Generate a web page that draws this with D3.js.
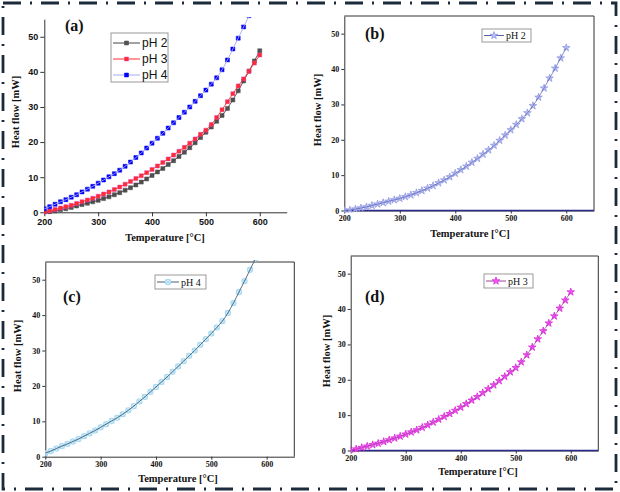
<!DOCTYPE html>
<html><head><meta charset="utf-8">
<script src="https://cdn.jsdelivr.net/npm/d3@7"></script>
<style>body{margin:0;background:#fff}svg{display:block}</style>
</head><body>
<svg id="c" width="620" height="492"></svg>
<script>
// ---- data ----
const temps = [200,210,220,230,240,250,260,270,280,290,300,310,320,330,340,350,360,370,380,390,400,410,420,430,440,450,460,470,480,490,500,510,520,530,540,550,560,570,580,590,600];
const ph2 = [0,0.1,0.4,0.7,1.0,1.4,1.8,2.2,2.6,3.0,3.4,3.9,4.4,5.0,5.6,6.3,7.0,7.8,8.6,9.5,10.5,11.5,12.5,13.6,14.7,15.9,17.1,18.4,19.8,21.3,22.8,24.3,25.9,27.6,29.6,32.0,34.6,37.4,40.2,43.1,46.0];
const ph3 = [0,0.4,0.8,1.2,1.6,2.0,2.5,3.0,3.5,4.0,4.6,5.2,5.8,6.5,7.2,8.0,8.8,9.6,10.4,11.3,12.2,13.2,14.2,15.2,16.3,17.4,18.5,19.7,20.9,22.2,23.4,25.0,27.0,29.2,31.5,33.8,36.0,38.0,40.2,42.5,44.8];
const ph4 = [1.0,1.6,2.3,3.0,3.6,4.3,5.0,5.8,6.6,7.4,8.3,9.2,10.1,11.0,12.0,13.1,14.3,15.6,16.9,18.3,19.7,21.1,22.5,24.0,25.5,27.0,28.5,30.0,31.6,33.2,34.8,36.5,38.3,40.6,43.4,46.5,49.6,52.8,56.0];
const xTicks = [200,300,400,500,600];
const yTicks = [0,10,20,30,40,50];
const xDomain = [200,650];
const yDomain = [0,55];

const svg = d3.select("#c");
const serif = "'Liberation Serif','Times New Roman',serif";
const sans = "'Liberation Sans',Arial,sans-serif";

// outer dash-dot frame
svg.append("rect").attr("x",3).attr("y",3).attr("width",613).attr("height",486)
  .attr("fill","none").attr("stroke","#1c2b3b").attr("stroke-width",2.8)
  .attr("stroke-dasharray","18,9,2,9");

function seriesPts(vals){ return vals.map((v,i)=>({t:temps[i],v:v})); }

const starPath = d3.symbol().type(d3.symbolStar).size(18)();
const sqPath = d3.symbol().type(d3.symbolSquare).size(16)();

function marker(g, kind, fill, stroke){
  if(kind==="square"){
    g.append("path").attr("d",sqPath).attr("fill",fill).attr("stroke",stroke).attr("stroke-width",0.5);
  } else if(kind==="star"){
    g.append("path").attr("d",starPath).attr("fill",fill).attr("stroke",stroke).attr("stroke-width",0.7);
  } else if(kind==="xcircle"){
    g.append("circle").attr("r",2.7).attr("fill","#d8f0fb").attr("stroke",stroke).attr("stroke-width",1);
    g.append("path").attr("d","M-2.5,-2.5L2.5,2.5M-2.5,2.5L2.5,-2.5").attr("stroke",stroke).attr("stroke-width",0.9);
  }
}

function panel(o){
  const x = d3.scaleLinear().domain(xDomain).range([o.x0,o.x1]);
  const y = d3.scaleLinear().domain(yDomain).range([o.y0,o.y1]);
  const g = svg.append("g");
  const clipId = "clip"+o.id;
  svg.append("clipPath").attr("id",clipId).append("rect")
    .attr("x",o.x0).attr("y",o.y1-2).attr("width",o.x1-o.x0+4).attr("height",o.y0-o.y1+4);

  const tickFont = o.sansTicks ? sans : serif;
  const xa = g.append("g").attr("transform",`translate(0,${o.y0})`)
    .call(d3.axisBottom(x).tickValues(xTicks).tickSize(o.tick).tickSizeOuter(0).tickPadding(2));
  const ya = g.append("g").attr("transform",`translate(${o.x0},0)`)
    .call(d3.axisLeft(y).tickValues(yTicks).tickSize(o.tick).tickSizeOuter(0).tickPadding(2));
  [xa,ya].forEach(a=>{
    a.selectAll("text").attr("font-family",tickFont).attr("font-weight","bold")
      .attr("font-size",o.tickFs).attr("fill","#111");
    a.selectAll("line").attr("stroke","#333");
    a.select(".domain").attr("stroke","#333").attr("stroke-width",1);
  });
  if(o.frame){
    g.append("line").attr("x1",o.x0).attr("x2",o.x1).attr("y1",o.y1).attr("y2",o.y1).attr("stroke","#333");
    g.append("line").attr("x1",o.x1).attr("x2",o.x1).attr("y1",o.y1).attr("y2",o.y0).attr("stroke","#333");
  }
  if(o.baseColor){
    g.append("line").attr("x1",o.x0).attr("x2",o.x1).attr("y1",o.y0).attr("y2",o.y0)
      .attr("stroke",o.baseColor).attr("stroke-width",1.3);
  }

  const plot = g.append("g").attr("clip-path",`url(#${clipId})`);
  o.series.forEach(s=>{
    const pts = seriesPts(s.vals);
    pts.forEach(d=>{
      const m = plot.append("g").attr("transform",`translate(${x(d.t)},${y(d.v)})`);
      marker(m,s.kind,s.fill,s.stroke);
    });
    plot.append("path").datum(pts).attr("fill","none").attr("stroke",s.line).attr("stroke-width",s.lw||0.9)
      .attr("stroke-opacity",s.lo||1)
      .attr("d",d3.line().x(d=>x(d.t)).y(d=>y(d.v)).curve(d3.curveMonotoneX));
  });

  // legend
  const L = o.legend;
  const lg = g.append("g");
  lg.append("rect").attr("x",L.x).attr("y",L.y).attr("width",L.w).attr("height",L.h)
    .attr("fill","#fff").attr("stroke","#999").attr("stroke-width",1);
  o.series.forEach((s,i)=>{
    const cy = L.y + L.pad + i*L.step;
    lg.append("line").attr("x1",L.x+2).attr("x2",L.x+2+L.len).attr("y1",cy).attr("y2",cy)
      .attr("stroke",s.line).attr("stroke-width",1);
    const m = lg.append("g").attr("transform",`translate(${L.x+2+L.len/2},${cy})`);
    marker(m,s.kind,s.fill,s.stroke);
    lg.append("text").attr("x",L.x+4+L.len).attr("y",cy).attr("dy","0.36em")
      .attr("font-family",L.font).attr("font-size",L.fs).attr("fill","#111").text(s.name);
  });

  // labels
  g.append("text").attr("x",o.lab[0]).attr("y",o.lab[1]).attr("font-family",serif)
    .attr("font-weight","bold").attr("font-size",16).attr("fill","#111").text(o.label);
  g.append("text").attr("x",o.xt[0]).attr("y",o.xt[1]).attr("text-anchor","middle")
    .attr("font-family",serif).attr("font-weight","bold").attr("font-size",10.5).attr("fill","#111")
    .text("Temperature [°C]");
  g.append("text").attr("transform",`translate(${o.yt[0]},${o.yt[1]}) rotate(-90)`)
    .attr("text-anchor","middle").attr("dy","0.35em")
    .attr("font-family",serif).attr("font-weight","bold").attr("font-size",10.5).attr("fill","#111")
    .text("Heat flow [mW]");
}

// (a)
panel({id:"a",x0:44.3,x1:286.7,y0:212.3,y1:19.2,tick:4,tickFs:9,sansTicks:true,frame:false,
  series:[
    {name:"pH 2",vals:ph2,kind:"square",fill:"#555",stroke:"#444",line:"#444"},
    {name:"pH 3",vals:ph3,kind:"square",fill:"#ff2a2a",stroke:"#e040c0",line:"#ff3030"},
    {name:"pH 4",vals:ph4,kind:"square",fill:"#0000ff",stroke:"#0000ee",line:"#a8a8f0"}
  ],
  legend:{x:111,y:33,w:57,h:49,pad:10,step:16,len:27,font:sans,fs:12},
  label:"(a)",lab:[65,31],xt:[165,241],yt:[15,112]});

// (b)
panel({id:"b",x0:344.3,x1:594,y0:210.5,y1:16,tick:3,tickFs:8,frame:true,baseColor:"#2a2a90",
  series:[{name:"pH 2",vals:ph2,kind:"star",fill:"#b9c0f6",stroke:"#8a92e0",line:"#5a62b0",lo:0.8}],
  legend:{x:482,y:29,w:49,h:13,pad:6.5,step:0,len:20,font:serif,fs:10},
  label:"(b)",lab:[365,39],xt:[470,237],yt:[317,110]});

// (c)
panel({id:"c",x0:45.3,x1:294.3,y0:456.7,y1:262,tick:3,tickFs:8,frame:true,
  series:[{name:"pH 4",vals:ph4,kind:"xcircle",fill:"none",stroke:"#9fd6f2",line:"#4a5f70"}],
  legend:{x:155,y:275,w:51,h:14,pad:7,step:0,len:22,font:serif,fs:10},
  label:"(c)",lab:[63,302],xt:[178,482],yt:[17,356]});

// (d)
panel({id:"d",x0:350.7,x1:598.3,y0:450.5,y1:256,tick:3,tickFs:8,frame:true,baseColor:"#2a2a90",
  series:[{name:"pH 3",vals:ph3,kind:"star",fill:"#ff55ff",stroke:"#d020d0",line:"#a040a0",lo:0.8}],
  legend:{x:484,y:274,w:49,h:14,pad:7,step:0,len:20,font:serif,fs:10},
  label:"(d)",lab:[365,302],xt:[478,475],yt:[326,351]});
</script>
</body></html>
